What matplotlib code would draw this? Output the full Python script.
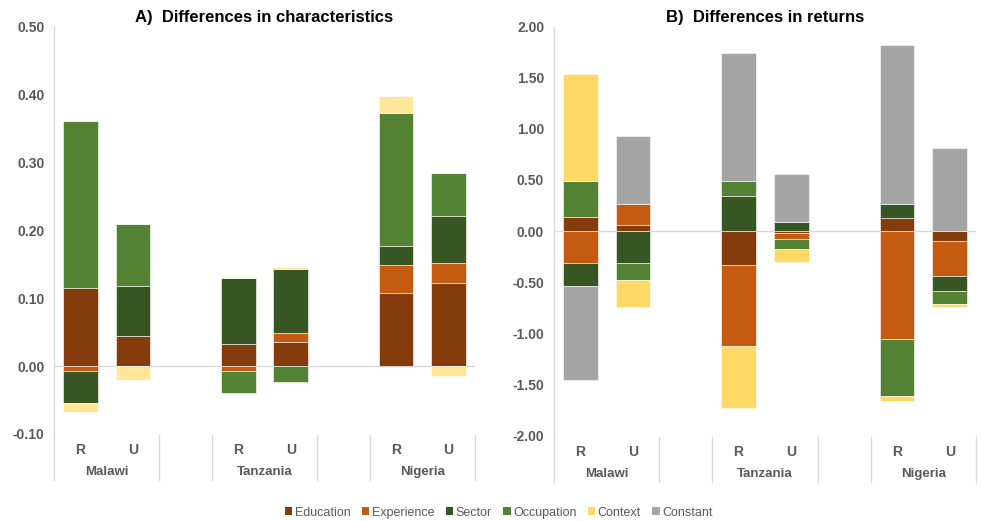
import matplotlib
matplotlib.use("Agg")
import matplotlib.pyplot as plt
from matplotlib.patches import Patch
from matplotlib.lines import Line2D
import numpy as np

plt.rcParams["font.family"] = ["Liberation Sans", "DejaVu Sans"]

countries = ["Malawi", "Tanzania", "Nigeria"]
areas = ["R", "U"]
components = ["Education", "Experience", "Sector", "Occupation", "Context", "Constant"]

# Decomposition values, order: Malawi R, Malawi U, Tanzania R, Tanzania U, Nigeria R, Nigeria U
# A) Differences in characteristics
edu_a = [0.115, 0.044, 0.033, 0.036, 0.108, 0.122]
exp_a = [-0.008, 0.000, -0.008, 0.013, 0.041, 0.030]
sec_a = [-0.047, 0.073, 0.096, 0.094, 0.028, 0.069]
occ_a = [0.245, 0.092, -0.032, -0.023, 0.195, 0.063]
ctx_a = [-0.013, -0.020, 0.002, 0.002, 0.025, -0.014]
con_a = [0.000, 0.000, 0.000, 0.000, 0.000, 0.000]

# B) Differences in returns
edu_b = [0.139, 0.058, -0.330, -0.020, 0.129, -0.096]
exp_b = [-0.308, 0.208, -0.790, -0.056, -1.057, -0.342]
sec_b = [-0.231, -0.308, 0.344, 0.090, 0.137, -0.153]
occ_b = [0.351, -0.169, 0.147, -0.101, -0.552, -0.121]
ctx_b = [1.044, -0.268, -0.606, -0.121, -0.055, -0.033]
con_b = [-0.916, 0.668, 1.249, 0.472, 1.558, 0.811]

colors = ["#843C0C", "#C55A11", "#375623", "#548235", "#FFD966", "#A5A5A5"]
colors_a = ["#843C0C", "#C55A11", "#375623", "#548235", "#FFE699", "#A5A5A5"]

# slot positions: R, U, gap for each country
slots = np.array([0, 1, 3, 4, 6, 7])
grey_txt = "#595959"
rule = "#D9D9D9"

fig = plt.figure(figsize=(9.82, 5.21), dpi=100)
ax_a = fig.add_axes([0.055, 0.167, 0.4287, 0.783])
ax_b = fig.add_axes([0.564, 0.164, 0.430, 0.785])


def draw_panel(ax, series, cols, ylim, yticks, title):
    pos = np.zeros(len(slots))
    neg = np.zeros(len(slots))
    for vals, c in zip(series, cols):
        v = np.array(vals, dtype=float)
        bottom = np.where(v >= 0, pos, neg)
        ax.bar(slots, v, bottom=bottom, width=0.66, color=c,
               edgecolor="white", linewidth=0.4, zorder=3)
        pos = pos + np.where(v >= 0, v, 0)
        neg = neg + np.where(v < 0, v, 0)
    ax.set_xlim(-0.5, 7.5)
    ax.set_ylim(*ylim)
    ax.set_yticks(yticks)
    ax.set_yticklabels([f"{t:.2f}" for t in yticks])
    ax.tick_params(axis="y", length=0, pad=7, labelsize=10, labelcolor=grey_txt)
    for lab in ax.get_yticklabels():
        lab.set_fontweight("bold")
    ax.set_xticks([])
    for s in ["top", "right", "bottom"]:
        ax.spines[s].set_visible(False)
    ax.spines["left"].set_color(rule)
    ax.spines["left"].set_linewidth(1.0)
    ax.axhline(0, color=rule, linewidth=1.0, zorder=2)
    ax.set_title(title, fontsize=12, fontweight="bold", pad=3, color="black")

    trans = ax.get_xaxis_transform()
    for xs in [-0.5, 1.5, 2.5, 4.5, 5.5, 7.5]:
        y0 = 0.0 if xs == -0.5 else -0.003
        ax.add_line(Line2D([xs, xs], [y0, -0.113], transform=trans,
                           color=rule, linewidth=1.0, clip_on=False))
    for i, x in enumerate(slots):
        ax.text(x, -0.039, areas[i % 2], transform=trans, ha="center", va="center",
                fontsize=10, fontweight="bold", color=grey_txt)
    for j, name in enumerate(countries):
        ax.text(slots[2 * j] + 0.5, -0.093, name, transform=trans, ha="center",
                va="center", fontsize=9.5, fontweight="bold", color=grey_txt)


draw_panel(ax_a, [edu_a, exp_a, sec_a, occ_a, ctx_a, con_a], colors_a,
           (-0.10, 0.50), np.round(np.arange(-0.10, 0.501, 0.10), 2),
           "A)  Differences in characteristics")
draw_panel(ax_b, [edu_b, exp_b, sec_b, occ_b, ctx_b, con_b], colors,
           (-2.0, 2.0), np.round(np.arange(-2.0, 2.01, 0.5), 2),
           "B)  Differences in returns")

handles = [Patch(facecolor=c, edgecolor="none") for c in colors]
leg = fig.legend(handles, components, loc="center", bbox_to_anchor=(0.508, 0.016),
                 ncol=6, frameon=False, fontsize=9, handlelength=0.6, handleheight=0.6,
                 handletextpad=0.2, columnspacing=0.9)
for t in leg.get_texts():
    t.set_color(grey_txt)

fig.savefig("out.png", dpi=100, facecolor="white")
